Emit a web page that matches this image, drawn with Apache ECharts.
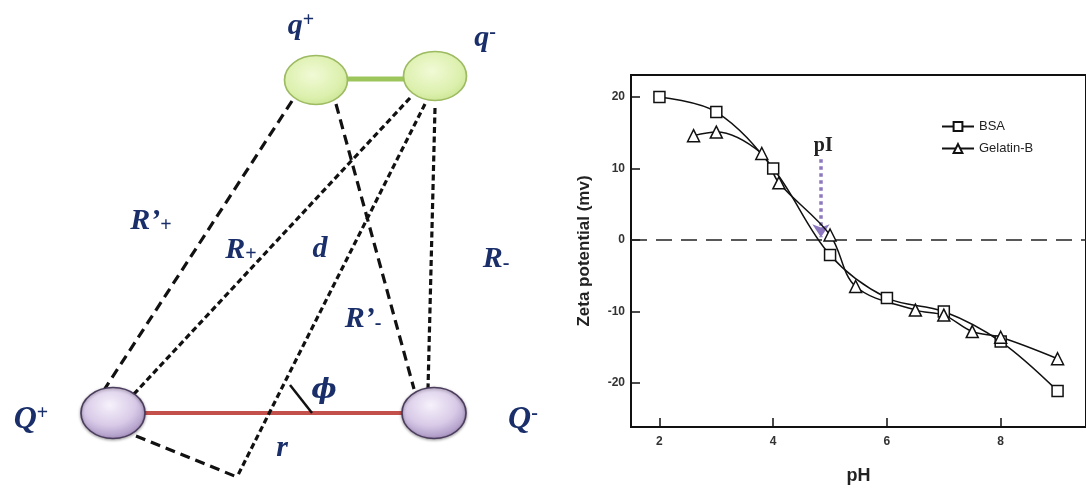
<!DOCTYPE html>
<html><head><meta charset="utf-8">
<script src="https://cdn.jsdelivr.net/npm/echarts@6/dist/echarts.min.js"></script>
<style>html,body{margin:0;padding:0;background:#fff}#c{width:1086px;height:491px}</style>
</head><body><div id="c"></div>
<script>
// ---------- chart data ----------
const bsaPH    = [2, 3, 4, 5, 6, 7, 8, 9];
const bsaZeta  = [20, 17.9, 10, -2.1, -8.1, -10, -14.2, -21.1];
const gelPH    = [2.6, 3.0, 3.8, 4.1, 5.0, 5.45, 6.5, 7.0, 7.5, 8.0, 9.0];
const gelZeta  = [14.6, 15.1, 12.1, 8.0, 0.7, -6.5, -9.8, -10.5, -12.8, -13.6, -16.6];
const xTicks   = [2, 4, 6, 8];
const yTicks   = [-20, -10, 0, 10, 20];
const pIArrow  = [[4.84, 11.3], [4.84, 0.4]];
const pIText   = [4.88, 13.2];

// ---------- diagram data (diagram space coordinates) ----------
const smallCharges = [[316, 80], [435, 76]];
const bigCharges   = [[113, 413], [434, 413]];
const greenBond    = [[340, 79], [410, 79]];
const redBond      = [[140, 413], [408, 413]];
const longDashLines  = [ [[292,101],[104,390]], [[336,104],[414,389]], [[136,436],[237,477]] ];
const shortDashLines = [ [[410,98],[133,395]], [[425,104],[237,477]], [[435,108],[428,389]] ];
const angleTick    = [[290, 385], [312, 413]];
const diagramLabels = [
  ['{m|q}{sup|+}', 301, 26],
  ['{m|q}{sup|-}', 485, 38],
  ['{m|R’}{sub|+}', 151, 221],
  ['{m|R}{sub|+}', 241, 250],
  ['{m|d}', 320, 249],
  ['{m|R}{sub|-}', 496, 259],
  ['{m|R’}{sub|-}', 363, 319],
  ['{q|Q}{sup|+}', 31, 420],
  ['{q|Q}{sup|-}', 523, 420],
  ['{ph|ϕ}', 324, 391],
  ['{m|r}', 282, 448]
];

const navy = '#1a2f6a';
const serif = '"Liberation Serif","DejaVu Serif",serif';
const sans = '"Liberation Sans", Arial, sans-serif';

const chart = echarts.init(document.getElementById('c'));

const lineItems = [];
longDashLines.forEach(c => lineItems.push({coords: c, lineStyle: {type: [10, 6], width: 3.2, color: '#111', opacity: 1}}));
shortDashLines.forEach(c => lineItems.push({coords: c, lineStyle: {type: [6, 3.5], width: 3.2, color: '#111', opacity: 1}}));
lineItems.push({coords: angleTick, lineStyle: {type: 'solid', width: 2.5, color: '#111', opacity: 1}});

const option = {
  animation: false,
  backgroundColor: '#fff',
  grid: [
    {left: 0, top: 0, width: 540, height: 491, show: false},
    {left: 631, top: 75, width: 462, height: 352, show: true, borderColor: '#111', borderWidth: 2, backgroundColor: 'transparent'}
  ],
  xAxis: [
    {gridIndex: 0, type: 'value', min: 0, max: 540, show: false},
    {gridIndex: 1, type: 'value', min: 1.5, max: 9.5,
     name: 'pH', nameLocation: 'middle', nameGap: 40,
     nameTextStyle: {fontFamily: sans, fontWeight: 'bold', fontSize: 18, color: '#222'},
     axisLine: {show: true, onZero: false, lineStyle: {color: '#111', width: 2}},
     axisTick: {show: true, inside: true, length: 9, lineStyle: {color: '#111', width: 1.5}, customValues: xTicks},
     axisLabel: {customValues: xTicks, margin: 9, fontFamily: sans, fontWeight: 'bold', fontSize: 12, color: '#333'},
     splitLine: {show: false}}
  ],
  yAxis: [
    {gridIndex: 0, type: 'value', min: 0, max: 491, inverse: true, show: false},
    {gridIndex: 1, type: 'value', min: -26.15, max: 23.08,
     name: 'Zeta potential (mv)', nameLocation: 'middle', nameGap: 38, nameRotate: 90,
     nameTextStyle: {fontFamily: sans, fontWeight: 'bold', fontSize: 17, color: '#222'},
     axisLine: {show: true, onZero: false, lineStyle: {color: '#111', width: 2}},
     axisTick: {show: true, inside: true, length: 9, lineStyle: {color: '#111', width: 1.5}, customValues: yTicks},
     axisLabel: {customValues: yTicks, margin: 6, fontFamily: sans, fontWeight: 'bold', fontSize: 12, color: '#333'},
     splitLine: {show: false}}
  ],
  legend: {
    data: ['BSA', 'Gelatin-B'], orient: 'vertical', left: 936, top: 115,
    itemWidth: 32, itemHeight: 11, itemGap: 9,
    textStyle: {fontFamily: sans, fontSize: 13, color: '#222'}
  },
  series: [
    // ---- diagram ----
    {type: 'line', xAxisIndex: 0, yAxisIndex: 0, data: greenBond, symbol: 'none', silent: true,
     lineStyle: {color: '#9cc65c', width: 5}, z: 1},
    {type: 'line', xAxisIndex: 0, yAxisIndex: 0, data: redBond, symbol: 'none', silent: true,
     lineStyle: {color: '#c4504c', width: 4}, z: 1},
    {type: 'lines', coordinateSystem: 'cartesian2d', xAxisIndex: 0, yAxisIndex: 0, data: lineItems, silent: true, z: 2,
     lineStyle: {opacity: 1}},
    {type: 'scatter', xAxisIndex: 0, yAxisIndex: 0, data: smallCharges, symbol: 'circle', symbolSize: [63, 49], silent: true, z: 3,
     itemStyle: {opacity: 1, borderColor: '#9dbb62', borderWidth: 1.5,
       color: {type: 'radial', x: 0.45, y: 0.4, r: 0.65, colorStops: [
         {offset: 0, color: '#f1fad6'}, {offset: 0.7, color: '#dcf0ad'}, {offset: 1, color: '#c7e38e'}]}}},
    {type: 'scatter', xAxisIndex: 0, yAxisIndex: 0, data: bigCharges, symbol: 'circle', symbolSize: [64, 51], silent: true, z: 3,
     itemStyle: {opacity: 1, borderColor: '#4c3d5e', borderWidth: 1.5, shadowColor: 'rgba(0,0,0,0.35)', shadowBlur: 3, shadowOffsetY: 1,
       color: {type: 'radial', x: 0.45, y: 0.35, r: 0.7, colorStops: [
         {offset: 0, color: '#f6f1fb'}, {offset: 0.55, color: '#d9cbe8'}, {offset: 1, color: '#a08abb'}]}}},
    {type: 'scatter', xAxisIndex: 0, yAxisIndex: 0, symbolSize: 1, silent: true, z: 4,
     itemStyle: {color: 'rgba(0,0,0,0)', opacity: 1},
     data: diagramLabels.map(d => ({value: [d[1], d[2]], label: {formatter: d[0]}})),
     label: {show: true, position: 'inside', opacity: 1,
       rich: {
         m: {fontFamily: serif, fontStyle: 'italic', fontWeight: 'bold', fontSize: 30, color: navy},
         ph: {fontFamily: '"DejaVu Serif", serif', fontStyle: 'italic', fontWeight: 'bold', fontSize: 27, color: navy},
         q: {fontFamily: serif, fontStyle: 'italic', fontWeight: 'bold', fontSize: 32, color: navy},
         sub: {fontFamily: serif, fontWeight: 'bold', fontSize: 20, color: navy, verticalAlign: 'bottom'},
         sup: {fontFamily: serif, fontWeight: 'bold', fontSize: 20, color: navy, verticalAlign: 'top'}
       }}},
    // ---- chart ----
    {name: 'BSA', type: 'line', xAxisIndex: 1, yAxisIndex: 1, smooth: 0.35,
     data: bsaPH.map((x, i) => [x, bsaZeta[i]]),
     symbol: 'rect', symbolSize: 11, showAllSymbol: true,
     itemStyle: {color: '#fff', borderColor: '#111', borderWidth: 1.5},
     lineStyle: {color: '#111', width: 1.5}, z: 5,
     markLine: {silent: true, symbol: 'none', label: {show: false},
       lineStyle: {type: [16, 9], color: '#222', width: 1.5},
       data: [{yAxis: 0}]}},
    {name: 'Gelatin-B', type: 'line', xAxisIndex: 1, yAxisIndex: 1, smooth: 0.35,
     data: gelPH.map((x, i) => [x, gelZeta[i]]),
     symbol: 'triangle', symbolSize: 12, showAllSymbol: true,
     itemStyle: {color: '#fff', borderColor: '#111', borderWidth: 1.5},
     lineStyle: {color: '#111', width: 1.5}, z: 5},
    {type: 'scatter', xAxisIndex: 1, yAxisIndex: 1, symbolSize: 1, silent: true, z: 6,
     itemStyle: {color: 'rgba(0,0,0,0)', opacity: 1},
     data: [pIText],
     label: {show: true, position: 'inside', formatter: 'pI', opacity: 1,
       fontFamily: serif, fontWeight: 'bold', fontSize: 20, color: '#222'},
     markLine: {silent: true, symbol: ['none', 'arrow'], symbolSize: 13, label: {show: false},
       lineStyle: {type: 'dotted', color: '#8d78c0', width: 3.5},
       data: [[{coord: pIArrow[0]}, {coord: pIArrow[1]}]]}}
  ]
};
chart.setOption(option);
</script>
</body></html>
